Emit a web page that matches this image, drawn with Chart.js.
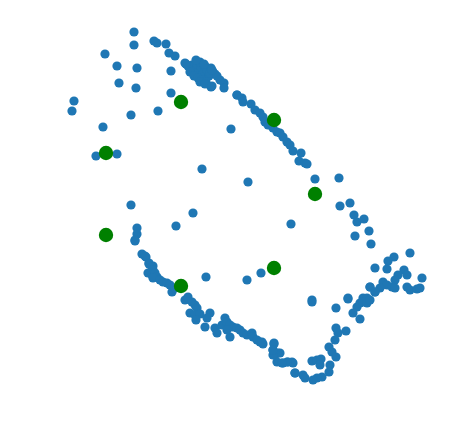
<!DOCTYPE html>
<html>
<head>
<meta charset="utf-8">
<script src="https://cdn.jsdelivr.net/npm/chart.js@4/dist/chart.umd.min.js"></script>
<style>
html,body{margin:0;padding:0;background:#fff;}
#wrap{width:454px;height:432px;}
</style>
</head>
<body>
<div id="wrap"><canvas id="c" width="454" height="432"></canvas></div>
<script>
// Blue data points (x, y) (y grows downward)
const blueX = [134,134,154,157,166,169,175,105,117,137,171,119,136,211,224,224,171,237,74,72,158,131,103,231,
  185,188,190,192,195,197,199,201,203,205,207,209,211,213,215,190,194,198,202,206,210,200,204,196,217,220,186,212,
  200,205,212,237,242,243,251,255,260,263,265,268,273,277,280,283,287,290,293,301,299,305,307,315,339,202,248,
  96,117,131,193,176,137,137,135,142,146,149,153,135,145,
  149,152,153,148,152,155,157,153,160,163,167,170,172,175,185,188,192,195,197,190,195,200,196,210,207,205,206,247,261,
  215,217,222,225,227,230,233,237,240,230,227,243,247,252,253,257,260,263,
  274,273,275,280,277,283,288,293,295,
  350,354,357,364,369,355,371,410,394,388,375,387,404,407,398,395,422,383,387,392,380,370,375,395,407,410,417,420,
  348,363,367,312,291,340,
  312,336,348,357,360,363,367,370,370,375,353,360,336,346,338,335,329,332,336,330,329,312,317,321,320,322,317,313,
  303,295,305,292,287,282,278,273,274,273,262];
const blueY = [32,45,41,43,44,53,56,54,66,68,71,83,88,87,83,88,93,95,101,111,111,115,127,129,
  63,66,68,65,70,64,72,67,74,66,70,76,68,72,74,72,76,78,80,82,73,62,64,60,76,80,64,70,
  82,84,86,95,98,102,104,110,113,117,122,125,128,132,133,137,142,145,151,153,161,163,164,179,178,169,182,
  156,154,205,213,226,228,234,240,254,257,263,266,241,256,
  264,267,270,273,275,273,277,278,280,282,283,285,292,288,300,297,302,305,308,313,315,314,320,313,318,327,277,280,273,
  328,333,325,318,322,325,327,328,330,337,330,333,335,333,337,340,342,344,
  343,350,355,353,362,363,362,363,373,
  203,215,222,219,231,236,244,253,257,261,268,269,270,275,275,280,278,282,285,287,288,287,292,288,287,290,289,288,
  298,298,298,300,224,206,
  302,308,299,307,303,302,303,300,287,292,313,319,328,331,333,340,347,352,357,365,372,361,360,359,365,377,378,380,
  375,373,378,362,362,363,353,355,344,350,342];
// Green (highlighted) points
const greenX = [181,274,106,315,106,274,181];
const greenY = [102,120,153,194,235,268,286];

const bluePts = blueX.map((x, i) => ({x: x, y: blueY[i]}));
const greenPts = greenX.map((x, i) => ({x: x, y: greenY[i]}));

new Chart(document.getElementById('c'), {
  type: 'scatter',
  data: {
    datasets: [
      {data: bluePts, backgroundColor: '#1f77b4', borderColor: '#1f77b4', borderWidth: 0, pointRadius: 4.6, pointHoverRadius: 4.6, order: 2},
      {data: greenPts, backgroundColor: '#008000', borderColor: '#008000', borderWidth: 0, pointRadius: 7.2, pointHoverRadius: 7.2, order: 1}
    ]
  },
  options: {
    responsive: false,
    animation: false,
    layout: {padding: 0, autoPadding: false},
    plugins: {legend: {display: false}, tooltip: {enabled: false}},
    scales: {
      x: {type: 'linear', min: 0, max: 454, display: false},
      y: {type: 'linear', min: 0, max: 432, reverse: true, display: false}
    }
  }
});
</script>
</body>
</html>
